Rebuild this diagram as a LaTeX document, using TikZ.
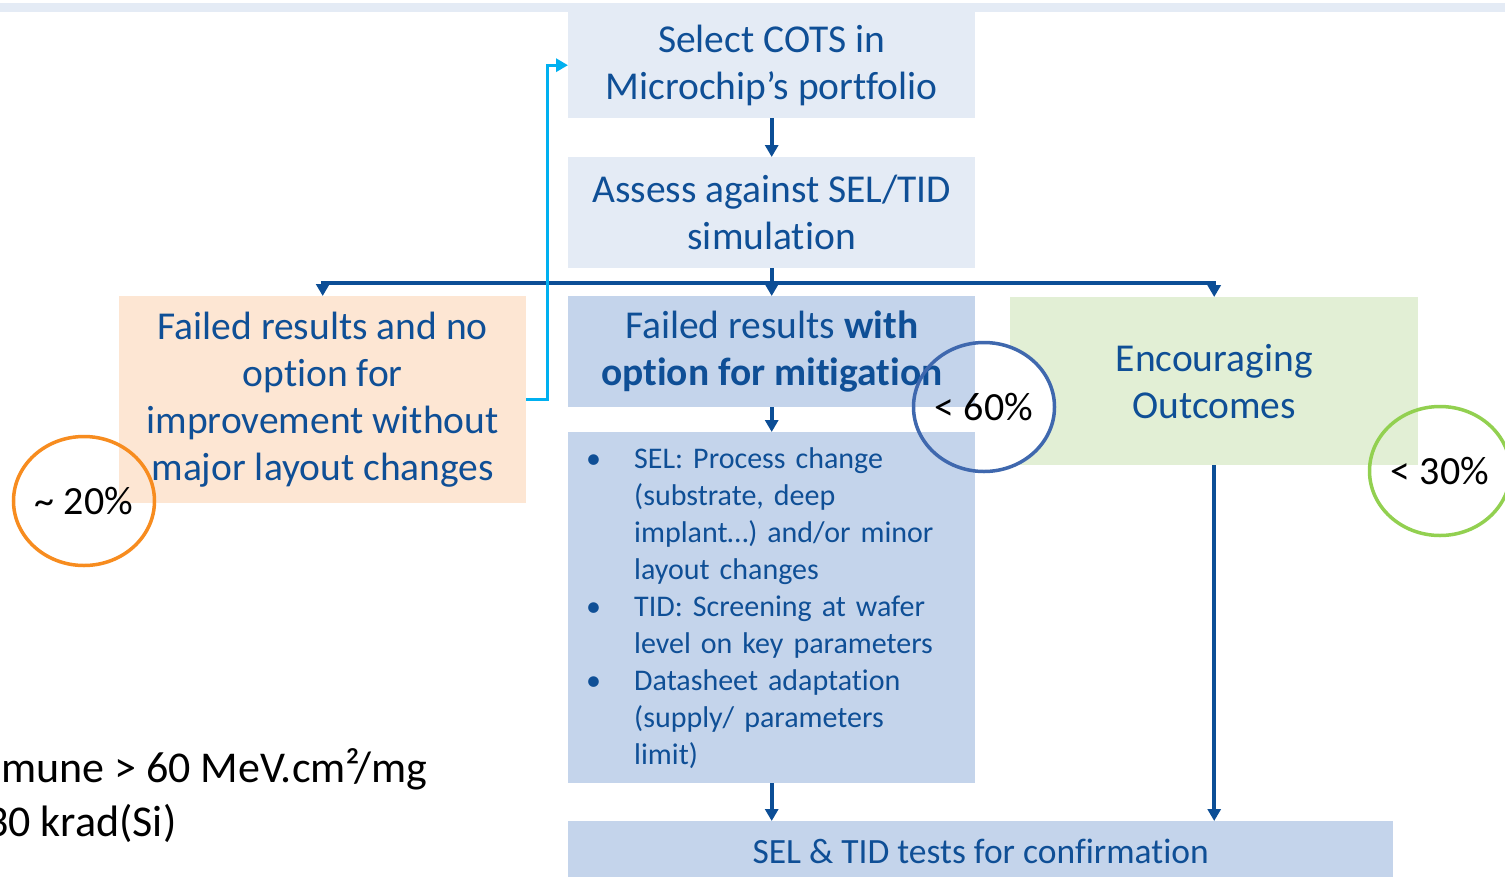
\documentclass[tikz,border=0pt]{standalone}
\usepackage{fontspec}
\setmainfont{Carlito}[Ligatures=CommonOff]
\usetikzlibrary{arrows.meta,shapes.geometric}
\definecolor{navy}{HTML}{0F4F96}
\definecolor{linkc}{HTML}{0C4E96}
\definecolor{paleblue}{HTML}{E4EBF5}
\definecolor{midblue}{HTML}{C4D4EB}
\definecolor{peach}{HTML}{FDE6D3}
\definecolor{sage}{HTML}{E2EFD5}
\definecolor{skyc}{HTML}{00B0F0}
\definecolor{ringorange}{HTML}{F78C1F}
\definecolor{ringblue}{HTML}{3F68AE}
\definecolor{ringgreen}{HTML}{92D050}
\begin{document}
\begin{tikzpicture}[x=1pt,y=-1pt,line join=miter,
  box/.style={rectangle,inner sep=0pt,minimum width=407pt,anchor=north west,align=center,text=navy,font=\fontsize{39.5}{47}\selectfont},
  link/.style={draw=linkc,line width=4pt,-{Triangle[width=13pt,length=12pt]}},
  feedback/.style={draw=skyc,line width=3pt,-{Triangle[width=13pt,length=12pt]}},
  ring/.style={ellipse,draw=#1,line width=3.5pt,minimum width=141pt,minimum height=129pt,inner sep=0pt,font=\fontsize{40}{44}\selectfont}]
	\clip (0,0) rectangle (1505,876);
	\fill[white] (0,0) rectangle (1505,876);
	\fill[paleblue] (0,3) rectangle (1505,12);
	\node[box,fill=paleblue,minimum height=106pt] (select) at (568,12) {Select COTS in\\Microchip’s portfolio};
	\node[box,fill=paleblue,minimum height=111pt] (assess) at (568,157) {Assess against SEL/TID\\simulation};
	\node[box,fill=peach,minimum height=207pt] (nofix) at (119,296) {Failed results and no\\option for\\improvement without\\major layout changes};
	\node[box,fill=sage,minimum width=408pt,minimum height=168pt] (good) at (1010,297) {Encouraging\\Outcomes};
	\fill[white] (984,407) ellipse [x radius=70pt,y radius=65pt];
	\node[box,fill=midblue,minimum height=111pt] (fix) at (568,296) {Failed results \textbf{with}\\\textbf{option for mitigation}};
	\node[box,fill=midblue,minimum height=351pt,align=left,text width=371pt,inner xsep=18pt,font=\fontsize{30}{37}\selectfont] (steps) at (568,432)
		{\makebox[48pt][l]{•}SEL: Process change\\\hspace*{48pt}(substrate, deep\\\hspace*{48pt}implant…) and/or minor\\\hspace*{48pt}layout changes\\
		\makebox[48pt][l]{•}TID: Screening at wafer\\\hspace*{48pt}level on key parameters\\
		\makebox[48pt][l]{•}Datasheet adaptation\\\hspace*{48pt}(supply/ parameters\\\hspace*{48pt}limit)};
	\node[box,fill=midblue,minimum width=825pt,minimum height=60pt,font=\fontsize{35.5}{42}\selectfont] (tests) at (568,821) {SEL \& TID tests for confirmation};
	\draw[link] (select) -- (assess);
	\draw[draw=linkc,line width=4pt] (assess.south) -- ++(0,15) coordinate (split);
	\draw[link] (split) -| (nofix.north);
	\draw[link] (split) -| (good.north);
	\draw[link] (split) -- (fix.north);
	\draw[link] (fix) -- (steps);
	\draw[link] (steps) -- (tests.north -| steps.south);
	\draw[link] (good) -- (good.south |- tests.north);
	\draw[feedback] (nofix.east) -- ++(21,0) |- (select.west);
	\node[ring=ringorange] (low) at (84,501) {\textasciitilde{} 20\%};
	\node[ring=ringblue] (mid) at (984,407) {< 60\%};
	\node[ring=ringgreen] (high) at (1440,471) {< 30\%};
	\node[anchor=base west,inner sep=0pt,font=\fontsize{44}{52}\selectfont] (letlim) at (1,782) {mune > 60 MeV.cm²/mg};
	\node[anchor=base west,inner sep=0pt,font=\fontsize{44}{52}\selectfont] (tidlim) at (-14,836) {30 krad(Si)};
\end{tikzpicture}
\end{document}
